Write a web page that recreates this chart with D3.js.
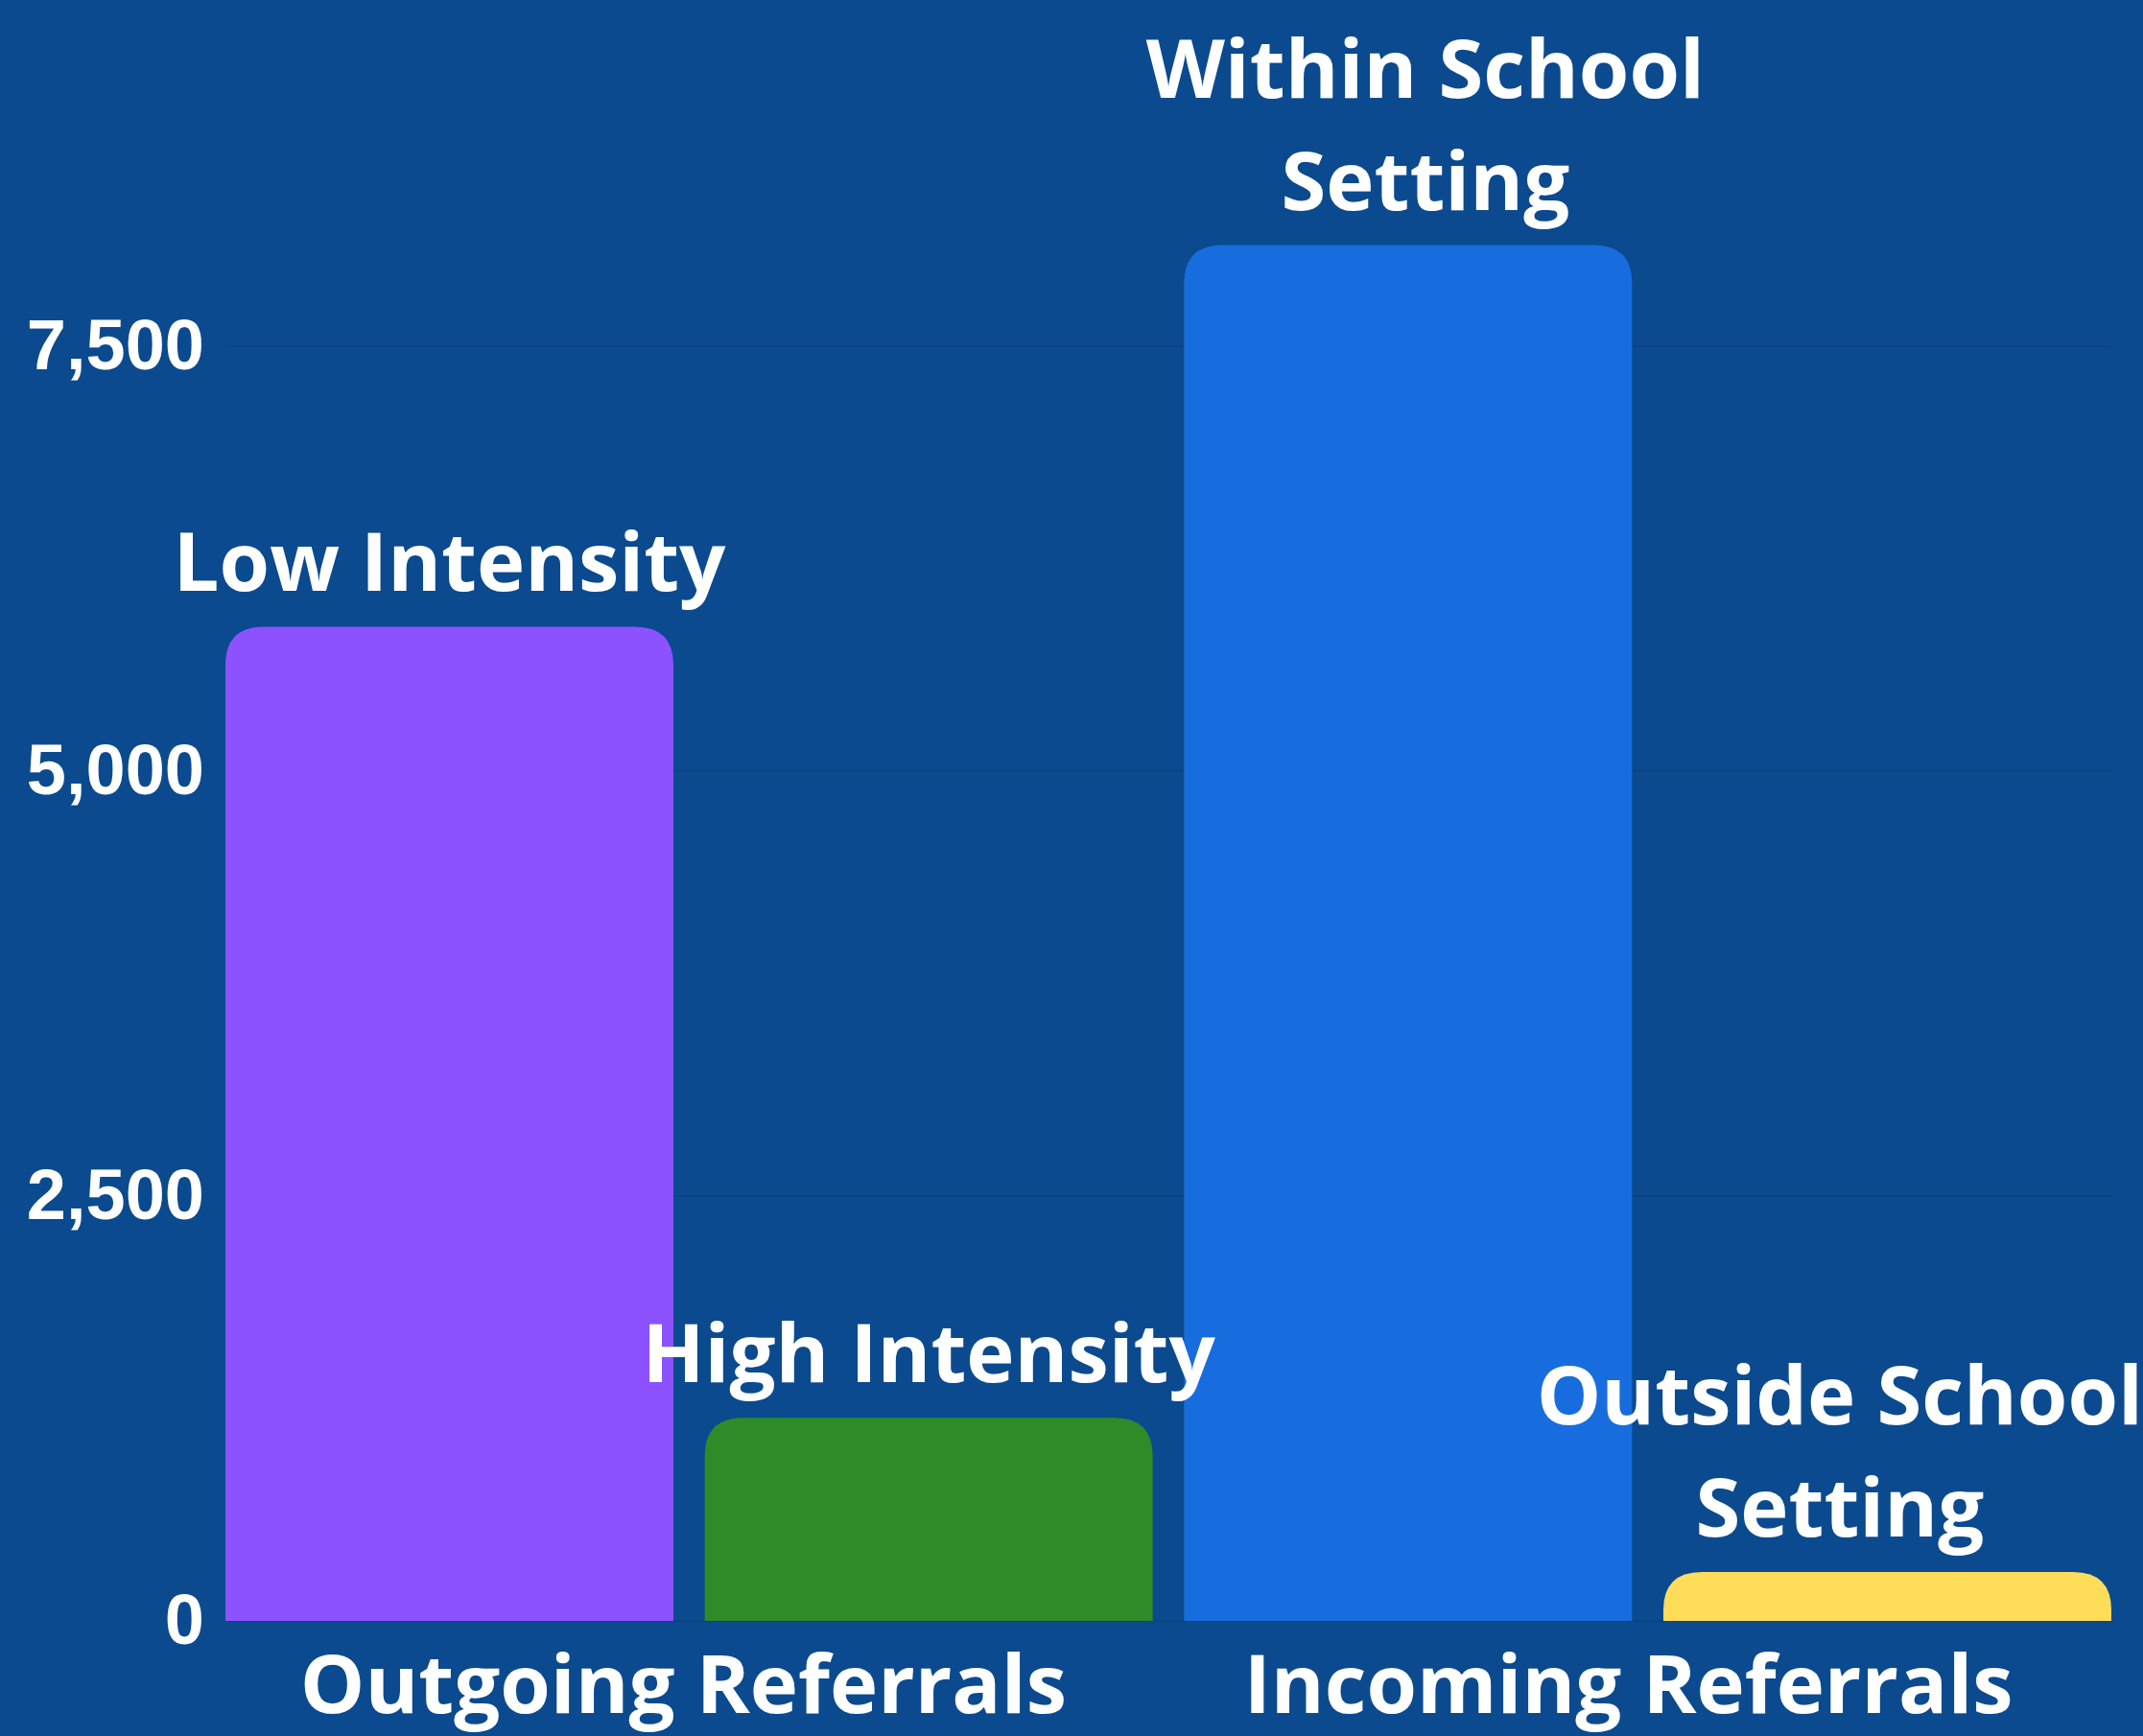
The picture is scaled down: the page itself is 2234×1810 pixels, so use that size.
<!DOCTYPE html>
<html>
<head>
<meta charset="utf-8">
<script src="https://cdn.jsdelivr.net/npm/d3@7"></script>
<style>
  html, body { margin: 0; padding: 0; background: #0b4a8f; }
  svg { display: block; }
</style>
</head>
<body>
<svg id="chart" width="2234" height="1810"></svg>
<script>
// ---- data ----
const categories = ["Low Intensity", "High Intensity", "Within School Setting", "Outside School Setting"];
const labelLines = [["Low Intensity"], ["High Intensity"], ["Within School", "Setting"], ["Outside School", "Setting"]];
const values = [5850, 1195, 8095, 288];
const barColors = ["#8c52ff", "#2d8c28", "#176ddd", "#ffdd59"];
const groups = ["Outgoing Referrals", "Incoming Referrals"];
const groupOfBar = [0, 0, 1, 1];
const yTicks = [0, 2500, 5000, 7500];

(function () {
  // ---- layout ----
  const W = 2234, H = 1810;
  const mLeft = 235, mRight = 2201, yTop = 361, yBottom = 1690;
  const svg = d3.select("#chart");
  svg.append("rect").attr("width", W).attr("height", H).attr("fill", "#0b4a8f");

  const x = d3.scaleBand().domain(categories).range([mLeft, mRight]).paddingInner(0.0654).paddingOuter(0);
  const y = d3.scaleLinear().domain([0, 7500]).range([yBottom, yTop]);

  // gridlines
  svg.append("g").selectAll("line").data(yTicks).join("line")
    .attr("x1", mLeft).attr("x2", mRight)
    .attr("y1", d => y(d)).attr("y2", d => y(d))
    .attr("stroke", "#0a4384").attr("stroke-width", 2);

  // y axis
  const yAxis = svg.append("g").attr("transform", `translate(${mLeft},0)`)
    .call(d3.axisLeft(y).tickValues(yTicks).tickFormat(d3.format(",")).tickSize(0).tickPadding(22));
  yAxis.select(".domain").remove();
  yAxis.selectAll("text")
    .attr("fill", "#ffffff")
    .style("font-family", "'Liberation Sans', Arial, sans-serif")
    .style("font-weight", "700")
    .style("font-size", "74px");

  // bars with rounded top corners
  function topRounded(x0, y0, w, h, r) {
    r = Math.min(r, h, w / 2);
    return `M${x0},${y0 + h}V${y0 + r}Q${x0},${y0} ${x0 + r},${y0}H${x0 + w - r}Q${x0 + w},${y0} ${x0 + w},${y0 + r}V${y0 + h}Z`;
  }
  const bw = x.bandwidth();
  svg.append("g").selectAll("path").data(values).join("path")
    .attr("d", (d, i) => {
      const x0 = x(categories[i]);
      const y0 = y(d);
      return topRounded(x0, y0, bw, y(0) - y0, 40);
    })
    .attr("fill", (d, i) => barColors[i]);

  // bar labels
  const labelFont = "'Open Sans', 'Noto Sans', sans-serif";
  const lineGap = 117;
  const labelNudge = [0, 0, 18, 0];   // small horizontal offsets seen in the reference
  const labG = svg.append("g");
  values.forEach((v, i) => {
    const lines = labelLines[i];
    const cx = x(categories[i]) + bw / 2 + labelNudge[i];
    const baseLast = y(v) - 37;
    const t = labG.append("text")
      .attr("text-anchor", "middle")
      .attr("fill", "#ffffff")
      .style("font-family", labelFont)
      .style("font-weight", "700")
      .style("font-size", "85px");
    lines.forEach((ln, k) => {
      t.append("tspan").attr("x", cx)
        .attr("y", baseLast - (lines.length - 1 - k) * lineGap)
        .text(ln);
    });
    // keep label inside the canvas
    const bb = t.node().getBBox();
    let shift = 0;
    if (bb.x + bb.width > W) shift = W - (bb.x + bb.width);
    if (bb.x < 0) shift = -bb.x;
    if (shift) t.selectAll("tspan").attr("x", cx + shift);
  });

  // group (x-axis) labels
  const groupNudge = [-6, -20];
  const gG = svg.append("g");
  groups.forEach((g, gi) => {
    const idx = groupOfBar.map((gg, i) => gg === gi ? i : -1).filter(i => i >= 0);
    const cx = d3.mean(idx, i => x(categories[i]) + bw / 2) + groupNudge[gi];
    gG.append("text")
      .attr("x", cx).attr("y", 1786)
      .attr("text-anchor", "middle")
      .attr("fill", "#ffffff")
      .style("font-family", labelFont)
      .style("font-weight", "700")
      .style("font-size", "85px")
      .text(g);
  });
})();
</script>
</body>
</html>
